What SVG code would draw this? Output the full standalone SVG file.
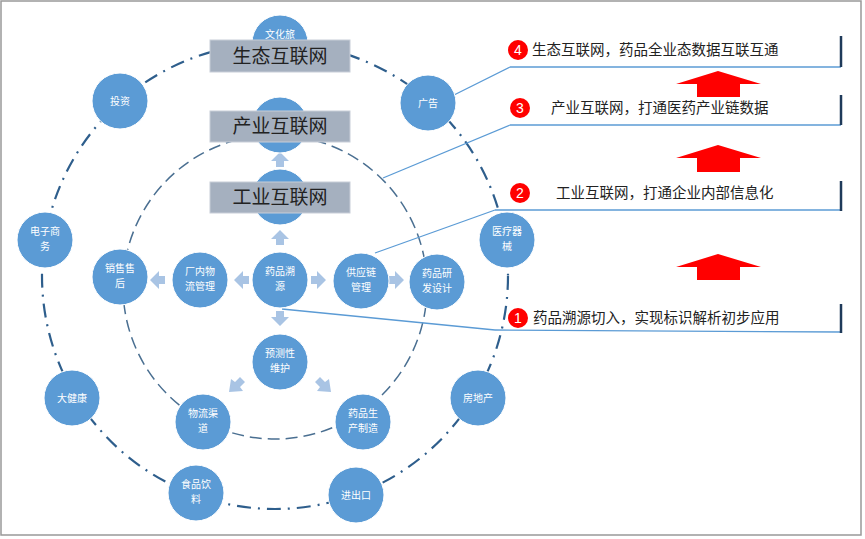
<svg xmlns="http://www.w3.org/2000/svg" width="865" height="539" viewBox="0 0 865 539">
<style>
.n circle{fill:#5b9bd5;stroke:#fff;stroke-width:1}
.n text{fill:#fff;font-family:"Noto Sans CJK SC",sans-serif;font-size:10px;text-anchor:middle}
.box rect{fill:#a5b0bf;stroke:#c8ced8;stroke-width:1}
.box text{fill:#222;font-family:"Noto Sans CJK SC",sans-serif;font-size:19px;text-anchor:middle}
.sa{fill:#a9c4e4}
.ra{fill:#ff0000}
.row text{font-family:"Noto Sans CJK SC",sans-serif;font-size:14.5px;fill:#222}
.num circle{fill:#ff0000}
.num text{fill:#fff;font-family:"Liberation Sans",sans-serif;font-size:14px;text-anchor:middle}
.ln{stroke:#5b9bd5;stroke-width:1.3;fill:none}
.bar{stroke:#1f3a5a;stroke-width:2.5}
</style>
<rect x="1" y="1" width="860" height="534" fill="#fff" stroke="#999" stroke-width="1.5"/>
<g id="rings">
<circle cx="275" cy="276" r="233" fill="none" stroke="#2e5e8c" stroke-width="2.2" stroke-dasharray="14 7 2 7"/>
<circle cx="275" cy="287" r="152" fill="none" stroke="#4a6f91" stroke-width="1.5" stroke-dasharray="12 6"/>
</g>
<g id="connectors">
<line class="ln" x1="452" y1="96" x2="510" y2="67"/>
<line class="ln" x1="383" y1="178" x2="510" y2="125"/>
<line class="ln" x1="375" y1="253" x2="495" y2="210"/>
<line class="ln" x1="282" y1="309" x2="495" y2="330"/>
<line class="ln" x1="510" y1="67" x2="841" y2="67"/>
<line class="ln" x1="510" y1="125" x2="841" y2="125"/>
<line class="ln" x1="495" y1="210" x2="841" y2="210"/>
<line class="ln" x1="495" y1="330" x2="841" y2="332"/>
<line class="bar" x1="841" y1="36" x2="841" y2="67"/>
<line class="bar" x1="841" y1="95" x2="841" y2="125"/>
<line class="bar" x1="841" y1="181" x2="841" y2="211"/>
<line class="bar" x1="841" y1="304" x2="841" y2="333"/>
<path class="sa" d="M280 152 L289 161 L284 161 L284 167 L276 167 L276 161 L271 161Z"/>
<path class="sa" d="M280 230 L289 239 L284 239 L284 245 L276 245 L276 239 L271 239Z"/>
<path class="sa" d="M280 326 L289 317 L284 317 L284 311 L276 311 L276 317 L271 317Z"/>
<path class="sa" d="M234 280 L243 271 L243 276 L249 276 L249 284 L243 284 L243 289Z"/>
<path class="sa" d="M150 280 L159 271 L159 276 L165 276 L165 284 L159 284 L159 289Z"/>
<path class="sa" d="M326 280 L317 271 L317 276 L311 276 L311 284 L317 284 L317 289Z"/>
<path class="sa" d="M404 280 L395 271 L395 276 L389 276 L389 284 L395 284 L395 289Z"/>
<path class="sa" d="M229 392 L231 379 L235 382 L240 377 L245 382 L240 387 L243 391Z"/>
<path class="sa" d="M331 392 L329 379 L325 382 L320 377 L315 382 L320 387 L317 391Z"/>
</g>
<g id="outer-nodes">
<g class="n" id="wenhua"><circle cx="280" cy="43" r="28"/><text x="280" y="38">文化旅</text></g>
<g class="n" id="touzi"><circle cx="120" cy="101" r="28"/><text x="120" y="105">投资</text></g>
<g class="n" id="guanggao"><circle cx="428" cy="103" r="28"/><text x="428" y="107">广告</text></g>
<g class="n" id="dianzi"><circle cx="45" cy="240" r="28"/><text x="45" y="235">电子商<tspan x="45" dy="15">务</tspan></text></g>
<g class="n" id="yiliao"><circle cx="507" cy="240" r="28"/><text x="507" y="235">医疗器<tspan x="507" dy="15">械</tspan></text></g>
<g class="n" id="dajiankang"><circle cx="72" cy="398" r="28"/><text x="72" y="402">大健康</text></g>
<g class="n" id="fangdichan"><circle cx="478" cy="398" r="28"/><text x="478" y="402">房地产</text></g>
<g class="n" id="shipin"><circle cx="196" cy="493" r="28"/><text x="196" y="488">食品饮<tspan x="196" dy="15">料</tspan></text></g>
<g class="n" id="jinchukou"><circle cx="356" cy="495" r="28"/><text x="356" y="499">进出口</text></g>
</g>
<g id="inner-nodes">
<g class="n" id="chanye-n"><circle cx="280" cy="125" r="28"/></g>
<g class="n" id="gongye-n"><circle cx="280" cy="197" r="28"/></g>
<g class="n" id="xiaoshou"><circle cx="120" cy="277" r="28"/><text x="120" y="272">销售售<tspan x="120" dy="15">后</tspan></text></g>
<g class="n" id="changnei"><circle cx="200" cy="280" r="28"/><text x="200" y="275">厂内物<tspan x="200" dy="15">流管理</tspan></text></g>
<g class="n" id="suyuan"><circle cx="280" cy="280" r="28"/><text x="280" y="275">药品溯<tspan x="280" dy="15">源</tspan></text></g>
<g class="n" id="gongying"><circle cx="361" cy="281" r="28"/><text x="361" y="276">供应链<tspan x="361" dy="15">管理</tspan></text></g>
<g class="n" id="yanfa"><circle cx="437" cy="282" r="28"/><text x="437" y="277">药品研<tspan x="437" dy="15">发设计</tspan></text></g>
<g class="n" id="yuce"><circle cx="280" cy="362" r="28"/><text x="280" y="357">预测性<tspan x="280" dy="15">维护</tspan></text></g>
<g class="n" id="wuliu"><circle cx="203" cy="422" r="28"/><text x="203" y="417">物流渠<tspan x="203" dy="15">道</tspan></text></g>
<g class="n" id="shengchan"><circle cx="363" cy="422" r="28"/><text x="363" y="417">药品生<tspan x="363" dy="15">产制造</tspan></text></g>
</g>
<g id="labels">
<g class="box" id="shengtai"><rect x="210" y="40" width="140" height="32"/><text x="280" y="63">生态互联网</text></g>
<g class="box" id="chanye"><rect x="210" y="111" width="140" height="31"/><text x="280" y="133">产业互联网</text></g>
<g class="box" id="gongye"><rect x="210" y="182" width="140" height="31"/><text x="280" y="204">工业互联网</text></g>
</g>
<g id="steps">
<g class="row" id="s4"><g class="num"><circle cx="518" cy="50" r="10"/><text x="518" y="55">4</text></g><text x="532" y="55">生态互联网，药品全业态数据互联互通</text></g>
<g class="row" id="s3"><g class="num"><circle cx="520" cy="108" r="10"/><text x="520" y="113">3</text></g><text x="551" y="113">产业互联网，打通医药产业链数据</text></g>
<g class="row" id="s2"><g class="num"><circle cx="520" cy="193" r="10"/><text x="520" y="198">2</text></g><text x="556" y="198">工业互联网，打通企业内部信息化</text></g>
<g class="row" id="s1"><g class="num"><circle cx="518" cy="318" r="10"/><text x="518" y="323">1</text></g><text x="533" y="323">药品溯源切入，实现标识解析初步应用</text></g>
<path class="ra" d="M718 71 L761 84 L740 84 L740 97 L697 97 L697 84 L676 84Z"/>
<path class="ra" d="M718 145 L761 158 L740 158 L740 172 L697 172 L697 158 L676 158Z"/>
<path class="ra" d="M718 254 L761 267 L740 267 L740 280 L697 280 L697 267 L676 267Z"/>
</g>
</svg>
